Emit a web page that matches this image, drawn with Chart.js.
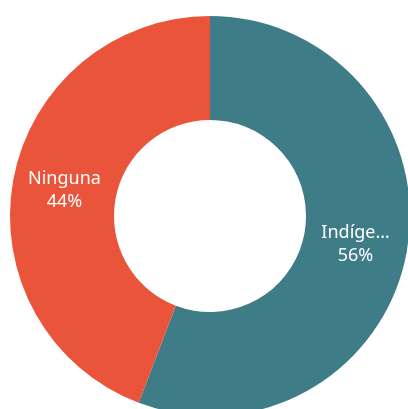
<!DOCTYPE html>
<html lang="es">

<head>
    <meta charset="utf-8">
    <title>Doughnut</title>
    <script src="https://cdn.jsdelivr.net/npm/chart.js@4.4.0/dist/chart.umd.min.js"></script>
    <style>
        html, body { margin: 0; padding: 0; background: #ffffff; overflow: hidden; }
        #wrap { position: absolute; left: 0; top: 0; width: 420px; height: 432px; }
    </style>
</head>

<body>
    <div id="wrap">
        <canvas id="myChart" width="420" height="432"></canvas>
    </div>

    <script>
        // datos
        const categories = ['Indígena', 'Ninguna']
        const shortLabels = ['Indíge…', 'Ninguna']
        const values = [55.8, 44.2]
        const colors = ['#3e7d87', '#e9543b']

        // dibuja nombre y porcentaje en el centro de cada arco
        const sliceLabels = {
            id: 'sliceLabels',
            afterDatasetsDraw(chart) {
                const ctx = chart.ctx
                const meta = chart.getDatasetMeta(0)
                const total = values.reduce((a, b) => a + b, 0)
                ctx.save()
                ctx.fillStyle = '#ffffff'
                ctx.font = '18px "Noto Sans"'
                ctx.textAlign = 'center'
                ctx.textBaseline = 'middle'
                meta.data.forEach((arc, i) => {
                    const p = arc.tooltipPosition()
                    const pct = Math.round(values[i] / total * 100) + '%'
                    ctx.fillText(shortLabels[i], p.x, p.y - 10)
                    ctx.fillText(pct, p.x, p.y + 13)
                })
                ctx.restore()
            }
        }

        const data = {
            labels: categories,
            datasets: [{
                data: values,
                backgroundColor: colors,
                borderWidth: 0
            }]
        }

        const config = {
            type: 'doughnut',
            data: data,
            options: {
                responsive: false,
                animation: false,
                devicePixelRatio: 1,
                cutout: '48%',
                layout: { padding: 10 },
                plugins: {
                    legend: { display: false },
                    tooltip: { enabled: false }
                }
            },
            plugins: [sliceLabels]
        }

        const myChart = new Chart(document.getElementById('myChart'), config)
    </script>
</body>

</html>
